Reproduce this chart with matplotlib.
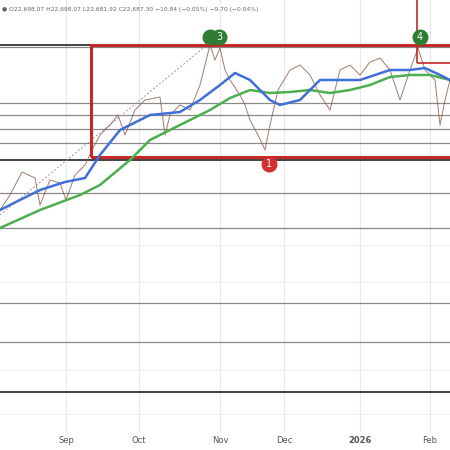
import matplotlib
matplotlib.use("Agg")
import matplotlib.pyplot as plt
from matplotlib.patches import Rectangle

# x positions are chart bar positions; prices in index points
month_labels = ["Sep", "Oct", "Nov", "Dec", "2026", "Feb"]
month_pos = [66, 139, 220, 284, 360, 430]

px = [0,10,22,35,40,50,60,66,75,85,92,100,110,118,125,135,145,160,165,170,180,190,200,205,210,215,220,225,230,240,245,250,258,265,270,278,290,300,310,315,320,330,340,350,360,370,380,390,400,410,418,425,435,440,445,450]
price = [21680,21800,21984,21936,21720,21920,21896,21760,21960,22040,22160,22280,22360,22440,22280,22480,22560,22584,22280,22440,22520,22480,22680,22840,23000,22880,22976,22800,22720,22600,22520,22400,22280,22160,22360,22640,22800,22840,22760,22680,22600,22480,22800,22840,22760,22864,22896,22800,22560,22800,22976,22800,22720,22360,22560,22720]

bx = [0,40,65,85,100,120,150,180,200,220,235,250,270,280,300,320,340,360,375,390,410,425,440,450]
blue_ma = [21680,21840,21904,21936,22120,22320,22440,22464,22560,22680,22776,22720,22560,22520,22560,22720,22720,22720,22760,22800,22800,22816,22760,22720]

gx = [0,40,80,100,130,150,180,210,230,250,270,290,310,330,350,370,390,410,430,450]
green_ma = [21536,21680,21800,21880,22080,22240,22360,22480,22576,22640,22616,22624,22640,22616,22640,22680,22744,22760,22760,22720]

levels_grey = [22984, 22536, 22440, 22328, 22216, 21816, 21536, 20936, 20624]
levels_red = [23000, 22104]
level_black = [23000, 22080, 20224]

fig = plt.figure(figsize=(4.5, 4.5), dpi=100)
ax = fig.add_axes([0, 0.04, 1, 0.96])
ax.set_xlim(0, 450)
ax.set_ylim(19904, 23360)
for s in ax.spines.values():
    s.set_visible(False)
ax.set_yticks([])
ax.set_xticks(month_pos)
ax.set_xticklabels(month_labels, fontsize=6, color="#555555")
ax.get_xticklabels()[4].set_fontweight("bold")
ax.tick_params(axis="x", length=0, pad=3)
for m in month_pos:
    ax.axvline(m, color="#e8e8e8", lw=0.8, zorder=0)
for lv in [20400, 20050, 21100, 21400]:
    ax.axhline(lv, color="#f0f0f0", lw=0.8, zorder=0)

for lv in levels_grey:
    ax.axhline(lv, color="#888888", lw=0.9, zorder=1)
for lv in level_black:
    ax.axhline(lv, color="#222222", lw=1.2, zorder=1)
ax.add_patch(Rectangle((91, levels_red[1]), 400, levels_red[0]-levels_red[1], fill=False, ec="#c62828", lw=2.2, zorder=3))
ax.add_patch(Rectangle((417, 22856), 40, 600, fill=False, ec="#c62828", lw=1.2, zorder=3))

ax.plot([0, 207], [21640, 23000], ls=(0, (2, 2)), color="#999999", lw=0.7)
ax.plot(px, price, color="#8a5a4a", lw=0.7, alpha=0.8, zorder=2)
ax.plot(gx, green_ma, color="#4caf50", lw=1.8, zorder=4)
ax.plot(bx, blue_ma, color="#3f6fd8", lw=1.8, zorder=5)

for (x, y, t, c) in [(210, 23064, "", "#2e7d32"), (219, 23064, "3", "#2e7d32"), (420, 23064, "4", "#2e7d32"), (269, 22048, "1", "#d32f2f")]:
    ax.scatter([x], [y], s=110, color=c, zorder=6)
    ax.text(x, y, t, color="white", ha="center", va="center", fontsize=7, zorder=7)

fig.text(0.005, 0.985, "\u25cf O22,698.07 H22,698.07 L22,681.92 C22,687.30 \u221210.84 (\u22120.05%) \u22129.70 (\u22120.04%)",
         fontsize=4.3, color="#666666", va="top")
fig.savefig("out.png", dpi=100)
